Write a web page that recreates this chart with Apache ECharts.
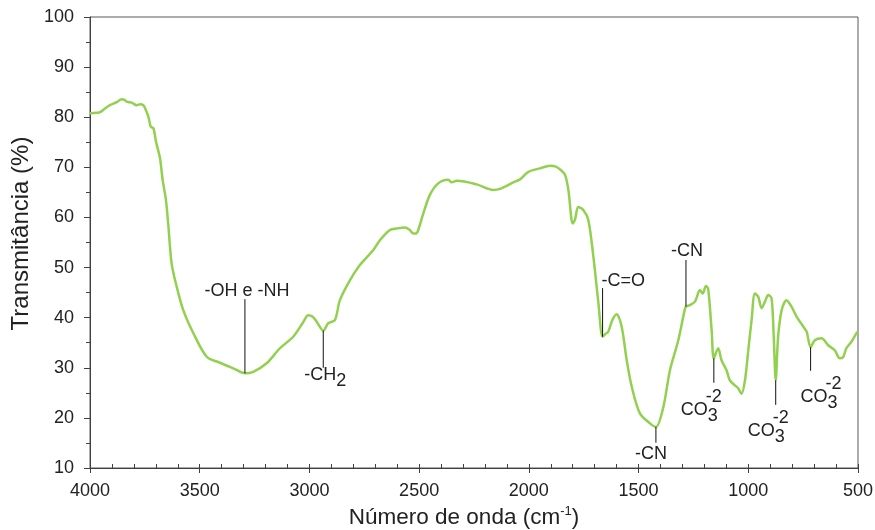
<!DOCTYPE html>
<html><head><meta charset="utf-8">
<script src="https://cdn.jsdelivr.net/npm/echarts@6.0.0/dist/echarts.min.js"></script>
<style>html,body{margin:0;padding:0;background:#fff}#c{width:875px;height:530px}</style>
</head><body><div id="c"></div>
<script>
// ---- data ----
const wavenumbers = [4000,3970,3954,3930,3909,3878,3856,3840,3833,3810,3787,3770,3757,3749,3734,3723,3711,3699,3681,3669,3654,3643,3628,3605,3575,3529,3468,3408,3347,3294,3256,3195,3134,3074,3030,3005,2985,2967,2937,2914,2884,2861,2815,2770,2709,2678,2633,2602,2565,2545,2527,2515,2504,2481,2451,2413,2367,2352,2329,2238,2162,2132,2071,2040,2002,1949,1904,1880,1858,1835,1820,1800,1790,1775,1752,1729,1706,1683,1664,1650,1638,1620,1600,1577,1554,1531,1494,1448,1421,1387,1357,1319,1290,1284,1266,1243,1220,1208,1193,1183,1167,1157,1137,1122,1099,1084,1061,1046,1031,1015,1000,985,970,955,939,924,909,894,884,875,864,848,826,803,780,749,734,716,697,666,636,606,583,568,553,530,507,500];
const transmittance = [80.8,80.9,81.0,81.8,82.4,83.0,83.6,83.4,83.1,82.9,82.4,82.6,82.4,81.8,80.1,78.1,77.8,75.1,71.8,67.5,63.5,58.4,50.8,46.2,41.5,36.9,32.2,31.0,29.9,28.9,29.2,30.9,33.9,36.2,39.0,40.5,40.2,39.2,37.4,38.9,39.5,43.5,47.5,50.5,53.5,55.5,57.5,57.8,58.0,57.6,56.8,56.8,57.5,60.8,64.5,66.8,67.5,67.0,67.3,66.6,65.5,65.7,67.0,67.6,69.1,69.8,70.3,70.2,69.6,68.5,65.5,58.8,59.5,62.1,61.5,59.5,52.2,42.9,36.2,36.8,37.2,39.5,40.7,38.2,31.5,26.2,20.9,18.9,18.2,22.2,29.5,35.5,41.5,42.2,42.5,43.2,45.5,44.8,46.3,45.8,37.5,31.9,33.9,31.5,29.5,27.5,26.5,25.9,24.8,27.5,33.5,39.5,44.8,44.2,41.9,43.2,44.5,43.9,36.2,27.5,36.2,41.5,43.5,42.2,40.2,38.2,37.2,34.1,35.5,35.9,34.5,33.5,31.9,32.1,33.9,35.2,36.9,37.2];

const xMin = 500, xMax = 4000, xStep = 500, xMinorStep = 100;
const yMin = 10, yMax = 100, yStep = 10;

// annotations: wavenumber, start (on curve), end of marker line, texts
const annotWn   = [3294, 2937, 1664, 1421, 1284, 1157, 875, 716];
const annotFrom = [28.9, 37.4, 36.2, 18.2, 42.2, 31.9, 27.5, 34.1];
const annotTo   = [43.7, 30.0, 45.9, 15.05, 51.5, 27.0, 22.6, 29.4];
const annotText = ['-OH e -NH', '-CH', '-C=O', '-CN', '-CN', 'CO', 'CO', 'CO'];
const annotSub  = ['', '2', '', '', '', '3', '3', '3'];
const annotSup  = ['', '', '', '', '', '-2', '-2', '-2'];

// ---- label layout (pixel offsets from the end of each marker line) ----
const labelLayout = [
  {align:'center', dx:2,   dy:-8},
  {align:'right',  dx:13,  dy:7},
  {align:'left',   dx:-1,  dy:-7},
  {align:'center', dx:-5,  dy:11},
  {align:'center', dx:1,   dy:-9},
  {align:'right',  dx:-6,  dy:27},
  {align:'right',  dx:-1,  dy:26.5},
  {align:'right',  dx:17,  dy:26.5}
];

const FONT = 'Liberation Sans, Arial, sans-serif';
const TXT = '#222';
const AX = '#404040';

const chart = echarts.init(document.getElementById('c'), null, {renderer:'canvas'});
const lineData = wavenumbers.map((w, i) => [w, transmittance[i]]);
const annotData = annotWn.map((w, i) => [w, annotFrom[i], annotTo[i], i]);

function renderAnnot(params, api) {
  const i = api.value(3);
  const p1 = api.coord([api.value(0), api.value(1)]);
  const p2 = api.coord([api.value(0), api.value(2)]);
  const L = labelLayout[i];
  const fontStr = '18px ' + FONT;
  const tx = p2[0] + L.dx, ty = p2[1] + L.dy;
  const children = [
    {type:'line', shape:{x1:p1[0], y1:p1[1], x2:p2[0], y2:p2[1]}, style:{stroke:'#111', lineWidth:1}},
    {type:'text', x:tx, y:ty, style:{text:annotText[i], font:fontStr, fill:TXT, align:L.align, verticalAlign:'middle'}}
  ];
  if (annotSub[i]) {
    children.push({type:'text', x:tx, y:ty + 6, style:{text:annotSub[i], font:fontStr, fill:TXT, align:'left', verticalAlign:'middle'}});
  }
  if (annotSup[i]) {
    children.push({type:'text', x:tx - 2, y:ty - 13, style:{text:annotSup[i], font:fontStr, fill:TXT, align:'left', verticalAlign:'middle'}});
  }
  return {type:'group', children};
}

const gridRect = {left:90, right:17, top:17, bottom:62, outerBoundsMode:'none'};

chart.setOption({
  animation:false,
  backgroundColor:'#fff',
  grid:[
    Object.assign({show:true, borderColor:'#595959', borderWidth:1, backgroundColor:'transparent'}, gridRect),
    Object.assign({show:false}, gridRect)
  ],
  xAxis:[{
    gridIndex:0,
    type:'value', min:xMin, max:xMax, interval:xStep, inverse:true,
    name:'{a|Número de onda (cm}{s|-1}{a|)}', nameLocation:'middle', nameGap:32,
    nameTextStyle:{padding:[0,20,0,0], rich:{a:{fontFamily:FONT, fontSize:22.5, color:TXT, lineHeight:26}, s:{fontFamily:FONT, fontSize:13, color:TXT, verticalAlign:'top', lineHeight:26}}},
    axisLine:{show:true, onZero:false, lineStyle:{color:AX, width:1}},
    axisTick:{show:true, length:5, lineStyle:{color:AX}},
    axisLabel:{fontFamily:FONT, fontSize:18, color:TXT, margin:14, formatter:v => String(v)},
    splitLine:{show:false}
  },{
    gridIndex:1,
    type:'value', min:xMin, max:xMax, interval:xMinorStep, inverse:true, position:'bottom',
    axisLine:{show:true, onZero:false, lineStyle:{color:AX, width:1}},
    axisLabel:{show:false}, splitLine:{show:false},
    axisTick:{show:true, inside:true, length:4, lineStyle:{color:AX}}
  }],
  yAxis:[{
    gridIndex:0,
    type:'value', min:yMin, max:yMax, interval:yStep,
    name:'Transmitância (%)', nameLocation:'middle', nameGap:55, nameRotate:90,
    nameTextStyle:{fontFamily:FONT, fontSize:24, color:TXT, padding:[0,0,0,18]},
    axisLine:{show:true, lineStyle:{color:AX, width:1}},
    axisTick:{show:true, length:6, lineStyle:{color:AX}},
    minorTick:{show:true, splitNumber:2, length:4, lineStyle:{color:AX}},
    axisLabel:{fontFamily:FONT, fontSize:18, color:TXT, margin:16},
    splitLine:{show:false}
  },{
    gridIndex:1, type:'value', min:yMin, max:yMax, show:false
  }],
  series:[{
    type:'line', xAxisIndex:0, yAxisIndex:0, data:lineData, showSymbol:false, smooth:0.3,
    lineStyle:{color:'#92D050', width:2.5}, z:3
  },{
    type:'custom', xAxisIndex:0, yAxisIndex:0, data:annotData, renderItem:renderAnnot,
    encode:{x:0, y:[1,2]}, clip:false, z:4, silent:true
  }]
});
</script></body></html>
